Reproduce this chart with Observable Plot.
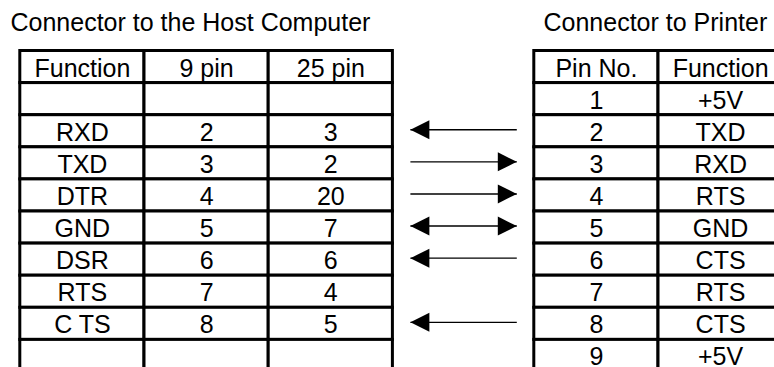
<!DOCTYPE html>
<html>
<head>
<meta charset="utf-8">
<script src="https://cdn.jsdelivr.net/npm/d3@7"></script>
<script src="https://cdn.jsdelivr.net/npm/@observablehq/plot@0.6"></script>
<style>
  html, body { margin: 0; padding: 0; background: white; }
</style>
</head>
<body>
<div id="chart"></div>
<script>
// ---- data ----
const hostTitle = "Connector to the Host Computer";
const printerTitle = "Connector to Printer";
const hostHeader = ["Function", "9 pin", "25 pin"];
const hostFunction = ["", "RXD", "TXD", "DTR", "GND", "DSR", "RTS", "C TS", ""];
const hostPin9 = ["", "2", "3", "4", "5", "6", "7", "8", ""];
const hostPin25 = ["", "3", "2", "20", "7", "6", "4", "5", ""];
const printerHeader = ["Pin No.", "Function"];
const printerPin = ["1", "2", "3", "4", "5", "6", "7", "8", "9"];
const printerFunction = ["+5V", "TXD", "RXD", "RTS", "GND", "CTS", "RTS", "CTS", "+5V"];
const signalDirection = [null, "left", "right", "right", "both", "left", null, "left", null];

// ---- layout (column units) ----
const colPx = 124.2;
const leftPx = 19.8;
const printerStart = (533.8 - leftPx) / colPx;
const inset = 17.5 / colPx;
const nRows = hostFunction.length + 1;

const hostCols = [[hostHeader[0], ...hostFunction], [hostHeader[1], ...hostPin9], [hostHeader[2], ...hostPin25]];
const printerCols = [[printerHeader[0], ...printerPin], [printerHeader[1], ...printerFunction]];

const cells = [];
const labels = [];
hostCols.forEach((col, c) => col.forEach((t, r) => {
  cells.push({x1: c, x2: c + 1, row: r});
  labels.push({x: c + 0.5, row: r, text: t});
}));
printerCols.forEach((col, c) => col.forEach((t, r) => {
  cells.push({x1: printerStart + c, x2: printerStart + c + 1, row: r});
  labels.push({x: printerStart + c + 0.5, row: r, text: t});
}));

const arrowL = 3 + inset;
const arrowR = printerStart - inset;
const arrows = [];
const heads = [];
signalDirection.forEach((d, i) => {
  if (!d) return;
  const row = i + 1;
  arrows.push({row, x1: arrowL, x2: arrowR});
  if (d === "left" || d === "both") heads.push({row, x: arrowL, rot: 180});
  if (d === "right" || d === "both") heads.push({row, x: arrowR, rot: 0});
});

const headSymbol = {
  draw(ctx) {
    ctx.moveTo(0, 0);
    ctx.lineTo(-19, -9.5);
    ctx.lineTo(-19, 9.5);
    ctx.closePath();
  }
};

const titles = [
  {x: 0, row: 0, text: hostTitle},
  {x: printerStart, row: 0, text: printerTitle}
];

const rowPx = 32.1;
const tableTop = 50.5;

const chart = Plot.plot({
  width: 774,
  height: 367,
  style: {fontFamily: "'Liberation Sans', Arial, sans-serif", fontSize: "25px", background: "white", color: "black"},
  x: {domain: [0, (774 - leftPx) / colPx], range: [leftPx, 774], axis: null},
  y: {type: "band", domain: d3.range(nRows), range: [tableTop, tableTop + rowPx * nRows], padding: 0, round: false, axis: null},
  marks: [
    Plot.barX(cells, {x1: "x1", x2: "x2", y: "row", fill: "white", stroke: "black", strokeWidth: 3}),
    Plot.text(labels, {x: "x", y: "row", text: "text", fontSize: 25, fill: "black", dy: 1.5}),
    Plot.text(titles.slice(0, 1), {x: "x", y: "row", text: "text", fontSize: 25, fill: "black", textAnchor: "start", dx: -9.8, dy: -44.5}),
    Plot.text(titles.slice(1), {x: "x", y: "row", text: "text", fontSize: 25, fill: "black", textAnchor: "start", dx: 9.2, dy: -44.5}),
    Plot.link(arrows, {x1: "x1", x2: "x2", y1: "row", y2: "row", stroke: "black", strokeWidth: 1.4, dy: -1.5}),
    Plot.dot(heads, {x: "x", y: "row", symbol: headSymbol, rotate: "rot", fill: "black", stroke: "none", dy: -1.5})
  ]
});
document.getElementById("chart").appendChild(chart);
</script>
</body>
</html>
